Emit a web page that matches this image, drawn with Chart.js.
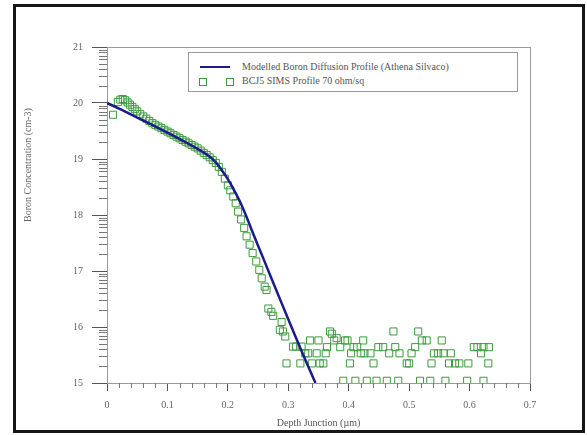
<!DOCTYPE html>
<html lang="en">
<head>
  <meta charset="utf-8">
  <title>Boron Diffusion Profile</title>
  <style>
    body { margin: 0; background: #fff; }
    .wrap { position: relative; width: 587px; height: 435px; }
    .frame {
      position: absolute; left: 13px; top: 4px; width: 566px; height: 423px;
      border: 3px solid #161616; pointer-events: none;
    }
    .legend {
      position: absolute; left: 188px; top: 52px; width: 328px; height: 38px;
      border: 1px solid #999; background: #fff;
      font-family: 'Liberation Serif', serif; font-size: 10px; color: #555;
    }
    .legend .row { position: absolute; left: 0; height: 12px; line-height: 12px; }
    .legend .txt { position: absolute; left: 53px; white-space: nowrap; }
    .legend .ln { position: absolute; left: 11px; top: 5px; width: 30px; height: 2px; background: #1b1b8a; }
    .legend .sq { position: absolute; top: 3px; width: 6px; height: 6px; border: 1px solid #3c9a3c; }
  </style>
  <script src="https://cdn.jsdelivr.net/npm/chart.js"></script>
</head>
<body>
  <div class="wrap">
    <canvas id="profileChart" width="587" height="435"></canvas>
    <div class="legend">
      <div class="row" style="top:8px"><span class="ln"></span><span class="txt">Modelled Boron Diffusion Profile (Athena Silvaco)</span></div>
      <div class="row" style="top:22px"><span class="sq" style="left:10px"></span><span class="sq" style="left:37px"></span><span class="txt">BCJ5 SIMS Profile 70 ohm/sq</span></div>
    </div>
    <div class="frame"></div>
  </div>

  <script>
    // modelled profile (Athena)
    const modelDepth = [0, 0.02, 0.05, 0.1, 0.15, 0.17, 0.18, 0.19, 0.2, 0.21, 0.22, 0.23, 0.24, 0.25, 0.26, 0.28, 0.30, 0.32, 0.345];
    const modelConc  = [20.0, 19.9, 19.74, 19.47, 19.18, 19.04, 18.94, 18.8, 18.64, 18.45, 18.24, 17.99, 17.72, 17.45, 17.19, 16.66, 16.14, 15.62, 15.0];

    // SIMS measurement
    const simsDepth = [
      0.010, 0.018, 0.022, 0.026, 0.030, 0.034, 0.038, 0.042, 0.046, 0.050,
      0.055, 0.060, 0.065, 0.070, 0.075, 0.080, 0.085, 0.090, 0.095, 0.100,
      0.105, 0.110, 0.115, 0.120, 0.125, 0.130, 0.135, 0.140, 0.145, 0.150,
      0.155, 0.160, 0.165, 0.170, 0.175, 0.180, 0.185, 0.190, 0.195, 0.200,
      0.204, 0.209, 0.213, 0.217, 0.222, 0.227, 0.231, 0.236, 0.241, 0.247,
      0.252, 0.256, 0.261, 0.264, 0.267, 0.272, 0.275, 0.286, 0.289, 0.291,
      0.295, 0.297, 0.308, 0.313, 0.320, 0.322, 0.328, 0.333, 0.336, 0.339,
      0.347, 0.350, 0.352, 0.358, 0.362, 0.364, 0.369, 0.372, 0.376, 0.380,
      0.386, 0.391, 0.394, 0.398, 0.402, 0.404, 0.408, 0.411, 0.414, 0.420,
      0.424, 0.426, 0.430, 0.436, 0.441, 0.446, 0.449, 0.457, 0.463, 0.467,
      0.474, 0.477, 0.482, 0.484, 0.496, 0.500, 0.504, 0.510, 0.515, 0.518,
      0.521, 0.529, 0.535, 0.537, 0.541, 0.548, 0.554, 0.557, 0.560, 0.566,
      0.569, 0.576, 0.583, 0.596, 0.598, 0.607, 0.613, 0.619, 0.623, 0.623,
      0.631, 0.632
    ];
    const simsConc = [
      19.79, 20.02, 20.06, 20.07, 20.05, 20.01, 19.97, 19.93, 19.89, 19.85,
      19.80, 19.76, 19.72, 19.68, 19.64, 19.61, 19.58, 19.55, 19.52, 19.49,
      19.46, 19.43, 19.40, 19.37, 19.34, 19.31, 19.28, 19.25, 19.22, 19.19,
      19.15, 19.11, 19.07, 19.03, 18.98, 18.93, 18.86, 18.77, 18.65, 18.53,
      18.44, 18.33, 18.21, 18.06, 17.92, 17.77, 17.62, 17.47, 17.32, 17.17,
      17.02, 16.87, 16.72, 16.66, 16.33, 16.27, 16.20, 15.95, 16.09, 15.92,
      15.83, 15.35, 15.65, 15.65, 15.35, 15.65, 15.53, 15.53, 15.76, 15.35,
      15.53, 15.76, 15.35, 15.35, 15.53, 15.64, 15.92, 15.88, 15.76, 15.80,
      15.64, 15.04, 15.76, 15.76, 15.35, 15.53, 15.64, 15.04, 15.64, 15.53,
      15.76, 15.53, 15.04, 15.53, 15.35, 15.04, 15.64, 15.64, 15.04, 15.53,
      15.92, 15.64, 15.04, 15.53, 15.35, 15.35, 15.53, 15.64, 15.92, 15.04,
      15.76, 15.76, 15.04, 15.35, 15.53, 15.53, 15.76, 15.53, 15.04, 15.35,
      15.53, 15.35, 15.35, 15.04, 15.35, 15.64, 15.64, 15.53, 15.64, 15.04,
      15.35, 15.64
    ];

    const xTicks = [0, 0.1, 0.2, 0.3, 0.4, 0.5, 0.6, 0.7];
    const yTicks = [15, 16, 17, 18, 19, 20, 21];

    const serif = 'Liberation Serif';

    // minor ticks, plot frame and the y title
    const extras = {
      id: 'extras',
      beforeDatasetsDraw(chart) {
        const {ctx, chartArea: a} = chart;
        ctx.save();
        ctx.strokeStyle = '#9a9a9a';
        ctx.lineWidth = 1;
        ctx.strokeRect(a.left + 0.5, a.top + 0.5, a.right - a.left, a.bottom - a.top);
        ctx.restore();
      },
      afterDraw(chart) {
        const {ctx, chartArea: a, scales: {x, y}} = chart;
        ctx.save();
        ctx.strokeStyle = '#777';
        ctx.lineWidth = 1;
        ctx.beginPath();
        for (let d = 15; d < 21; d++) {
          for (let m = 2; m <= 9; m++) {
            const py = Math.round(y.getPixelForValue(d + Math.log10(m))) + 0.5;
            ctx.moveTo(a.left - 8, py);
            ctx.lineTo(a.left, py);
          }
        }
        for (let i = 1; i < 35; i++) {
          if (i % 5 === 0) continue;
          const px = Math.round(x.getPixelForValue(i * 0.02)) + 0.5;
          ctx.moveTo(px, a.bottom);
          ctx.lineTo(px, a.bottom + 5);
        }
        ctx.stroke();

        ctx.translate(28, 165);
        ctx.rotate(-Math.PI / 2);
        ctx.font = '10px ' + serif;
        ctx.fillStyle = '#666';
        ctx.textAlign = 'center';
        ctx.textBaseline = 'middle';
        ctx.fillText('Boron Concentration (cm-3)', 0, 0);
        ctx.restore();
      }
    };

    new Chart(document.getElementById('profileChart'), {
      type: 'scatter',
      data: {
        datasets: [
          {
            label: 'Modelled Boron Diffusion Profile (Athena Silvaco)',
            data: modelDepth.map((d, i) => ({x: d, y: modelConc[i]})),
            showLine: true,
            borderColor: '#1b1b8a',
            borderWidth: 2.5,
            pointRadius: 0,
            tension: 0.3,
            order: 1
          },
          {
            label: 'BCJ5 SIMS Profile 70 ohm/sq',
            data: simsDepth.map((d, i) => ({x: d, y: simsConc[i]})),
            pointStyle: 'rect',
            pointRadius: 5,
            borderColor: '#3c9a3c',
            backgroundColor: 'rgba(0,0,0,0)',
            borderWidth: 1,
            order: 2
          }
        ]
      },
      options: {
        responsive: false,
        animation: false,
        devicePixelRatio: 1,
        layout: { padding: { top: 47, right: 57, left: 0, bottom: 0 } },
        plugins: { legend: { display: false }, tooltip: { enabled: false } },
        scales: {
          x: {
            type: 'linear', min: 0, max: 0.7,
            afterFit: s => { s.height = 52; },
            afterBuildTicks: s => { s.ticks = xTicks.map(v => ({value: v})); },
            ticks: {
              padding: 8, color: '#666', font: { family: serif, size: 10 },
              callback: v => v === 0 ? '0' : v.toFixed(1)
            },
            grid: { drawOnChartArea: false, tickLength: 8, color: '#555' },
            border: { color: '#444' },
            title: {
              display: true, text: 'Depth Junction (\u00b5m)', color: '#555',
              font: { family: serif, size: 10 }, padding: { top: 0, bottom: 6 }
            }
          },
          y: {
            type: 'linear', min: 15, max: 21,
            afterFit: s => { s.width = 107; },
            afterBuildTicks: s => { s.ticks = yTicks.map(v => ({value: v})); },
            ticks: { padding: 9, color: '#666', font: { family: serif, size: 10 } },
            grid: { drawOnChartArea: false, tickLength: 15, color: '#555' },
            border: { color: '#444' }
          }
        }
      },
      plugins: [extras]
    });
  </script>
</body>
</html>
